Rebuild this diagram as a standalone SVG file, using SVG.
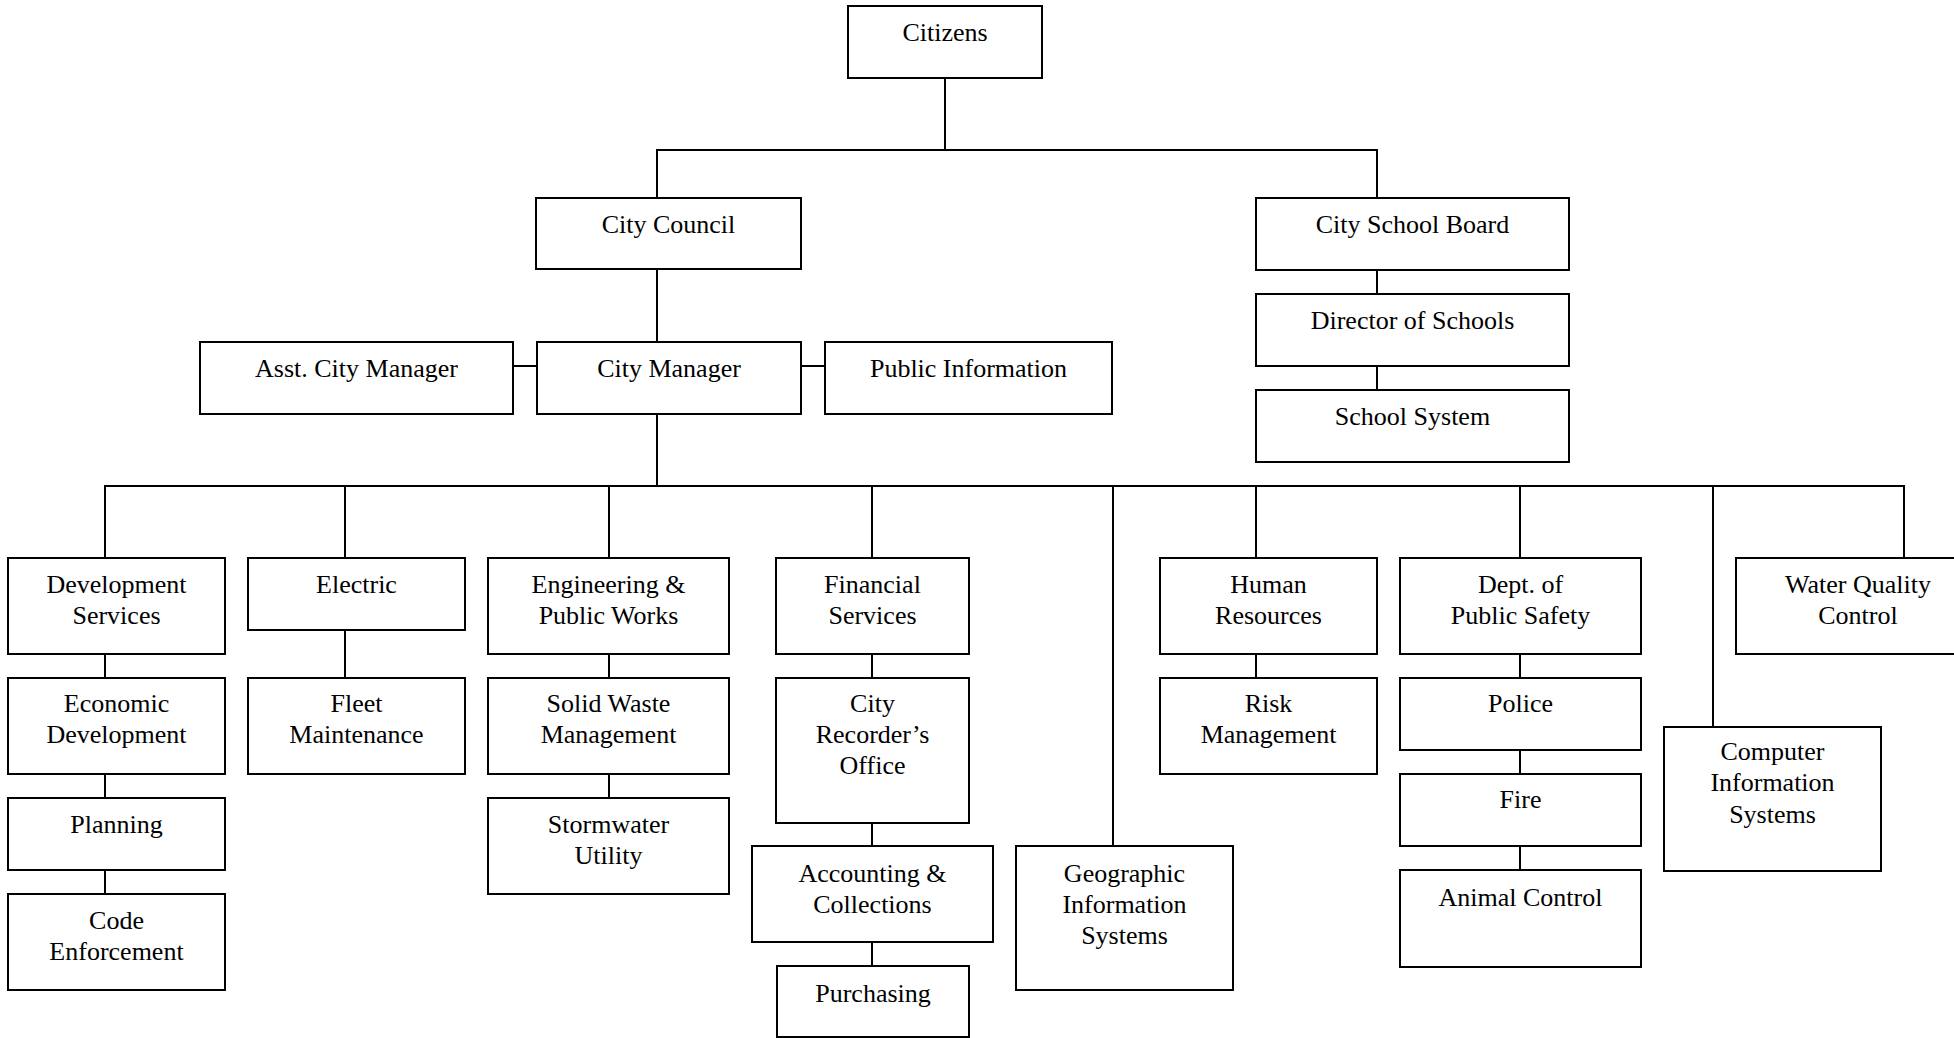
<svg xmlns="http://www.w3.org/2000/svg" width="1954" height="1038" viewBox="0 0 1954 1038">
<style>
  .box { fill: #fff; stroke: #000; stroke-width: 2; }
  .lbl { font-family: "Liberation Serif", "Times New Roman", serif; font-size: 26px; fill: #000; text-anchor: middle; }
  .conn line { stroke: #000; stroke-width: 2; }
</style>
<rect x="0" y="0" width="1954" height="1038" fill="#fff"/>
<g class="conn" id="connectors">
  <line x1="945" y1="78" x2="945" y2="150"/>
  <line x1="656" y1="150" x2="1378" y2="150"/>
  <line x1="657" y1="150" x2="657" y2="198"/>
  <line x1="1377" y1="150" x2="1377" y2="198"/>
  <line x1="657" y1="269" x2="657" y2="342"/>
  <line x1="513" y1="366" x2="537" y2="366"/>
  <line x1="801" y1="366" x2="825" y2="366"/>
  <line x1="1377" y1="270" x2="1377" y2="294"/>
  <line x1="1377" y1="366" x2="1377" y2="390"/>
  <line x1="657" y1="414" x2="657" y2="486"/>
  <line x1="104" y1="486" x2="1905" y2="486"/>
  <line x1="105" y1="486" x2="105" y2="558"/>
  <line x1="345" y1="486" x2="345" y2="558"/>
  <line x1="609" y1="486" x2="609" y2="558"/>
  <line x1="872" y1="486" x2="872" y2="558"/>
  <line x1="1113" y1="486" x2="1113" y2="846"/>
  <line x1="1256" y1="486" x2="1256" y2="558"/>
  <line x1="1520" y1="486" x2="1520" y2="558"/>
  <line x1="1713" y1="486" x2="1713" y2="727"/>
  <line x1="1904" y1="486" x2="1904" y2="558"/>
  <line x1="105" y1="654" x2="105" y2="678"/>
  <line x1="105" y1="774" x2="105" y2="798"/>
  <line x1="105" y1="870" x2="105" y2="894"/>
  <line x1="345" y1="630" x2="345" y2="678"/>
  <line x1="609" y1="654" x2="609" y2="678"/>
  <line x1="609" y1="774" x2="609" y2="798"/>
  <line x1="872" y1="654" x2="872" y2="678"/>
  <line x1="872" y1="823" x2="872" y2="846"/>
  <line x1="872" y1="942" x2="872" y2="966"/>
  <line x1="1256" y1="654" x2="1256" y2="678"/>
  <line x1="1520" y1="654" x2="1520" y2="678"/>
  <line x1="1520" y1="750" x2="1520" y2="774"/>
  <line x1="1520" y1="846" x2="1520" y2="870"/>
</g>
<g id="citizens"><rect class="box" x="848" y="6" width="194" height="72"/><text class="lbl" x="945" y="41">Citizens</text></g>
<g id="city-council"><rect class="box" x="536" y="198" width="265" height="71"/><text class="lbl" x="668.5" y="233">City Council</text></g>
<g id="city-school-board"><rect class="box" x="1256" y="198" width="313" height="72"/><text class="lbl" x="1412.5" y="233">City School Board</text></g>
<g id="director-of-schools"><rect class="box" x="1256" y="294" width="313" height="72"/><text class="lbl" x="1412.5" y="329">Director of Schools</text></g>
<g id="school-system"><rect class="box" x="1256" y="390" width="313" height="72"/><text class="lbl" x="1412.5" y="425">School System</text></g>
<g id="asst-city-manager"><rect class="box" x="200" y="342" width="313" height="72"/><text class="lbl" x="356.5" y="377">Asst. City Manager</text></g>
<g id="city-manager"><rect class="box" x="537" y="342" width="264" height="72"/><text class="lbl" x="669" y="377">City Manager</text></g>
<g id="public-information"><rect class="box" x="825" y="342" width="287" height="72"/><text class="lbl" x="968.5" y="377">Public Information</text></g>

<g id="development-services"><rect class="box" x="8" y="558" width="217" height="96"/><text class="lbl" x="116.5" y="593">Development</text><text class="lbl" x="116.5" y="624">Services</text></g>
<g id="economic-development"><rect class="box" x="8" y="678" width="217" height="96"/><text class="lbl" x="116.5" y="712">Economic</text><text class="lbl" x="116.5" y="743">Development</text></g>
<g id="planning"><rect class="box" x="8" y="798" width="217" height="72"/><text class="lbl" x="116.5" y="833">Planning</text></g>
<g id="code-enforcement"><rect class="box" x="8" y="894" width="217" height="96"/><text class="lbl" x="116.5" y="929">Code</text><text class="lbl" x="116.5" y="960">Enforcement</text></g>

<g id="electric"><rect class="box" x="248" y="558" width="217" height="72"/><text class="lbl" x="356.5" y="593">Electric</text></g>
<g id="fleet-maintenance"><rect class="box" x="248" y="678" width="217" height="96"/><text class="lbl" x="356.5" y="712">Fleet</text><text class="lbl" x="356.5" y="743">Maintenance</text></g>

<g id="engineering-public-works"><rect class="box" x="488" y="558" width="241" height="96"/><text class="lbl" x="608.5" y="593">Engineering &amp;</text><text class="lbl" x="608.5" y="624">Public Works</text></g>
<g id="solid-waste-management"><rect class="box" x="488" y="678" width="241" height="96"/><text class="lbl" x="608.5" y="712">Solid Waste</text><text class="lbl" x="608.5" y="743">Management</text></g>
<g id="stormwater-utility"><rect class="box" x="488" y="798" width="241" height="96"/><text class="lbl" x="608.5" y="833">Stormwater</text><text class="lbl" x="608.5" y="864">Utility</text></g>

<g id="financial-services"><rect class="box" x="776" y="558" width="193" height="96"/><text class="lbl" x="872.5" y="593">Financial</text><text class="lbl" x="872.5" y="624">Services</text></g>
<g id="city-recorders-office"><rect class="box" x="776" y="678" width="193" height="145"/><text class="lbl" x="872.5" y="712">City</text><text class="lbl" x="872.5" y="743">Recorder’s</text><text class="lbl" x="872.5" y="774">Office</text></g>
<g id="accounting-collections"><rect class="box" x="752" y="846" width="241" height="96"/><text class="lbl" x="872.5" y="882">Accounting &amp;</text><text class="lbl" x="872.5" y="913">Collections</text></g>
<g id="purchasing"><rect class="box" x="777" y="966" width="192" height="71"/><text class="lbl" x="873" y="1002">Purchasing</text></g>

<g id="geographic-information-systems"><rect class="box" x="1016" y="846" width="217" height="144"/><text class="lbl" x="1124.5" y="882">Geographic</text><text class="lbl" x="1124.5" y="913">Information</text><text class="lbl" x="1124.5" y="944">Systems</text></g>

<g id="human-resources"><rect class="box" x="1160" y="558" width="217" height="96"/><text class="lbl" x="1268.5" y="593">Human</text><text class="lbl" x="1268.5" y="624">Resources</text></g>
<g id="risk-management"><rect class="box" x="1160" y="678" width="217" height="96"/><text class="lbl" x="1268.5" y="712">Risk</text><text class="lbl" x="1268.5" y="743">Management</text></g>

<g id="dept-public-safety"><rect class="box" x="1400" y="558" width="241" height="96"/><text class="lbl" x="1520.5" y="593">Dept. of</text><text class="lbl" x="1520.5" y="624">Public Safety</text></g>
<g id="police"><rect class="box" x="1400" y="678" width="241" height="72"/><text class="lbl" x="1520.5" y="712">Police</text></g>
<g id="fire"><rect class="box" x="1400" y="774" width="241" height="72"/><text class="lbl" x="1520.5" y="808">Fire</text></g>
<g id="animal-control"><rect class="box" x="1400" y="870" width="241" height="97"/><text class="lbl" x="1520.5" y="906">Animal Control</text></g>

<g id="computer-information-systems"><rect class="box" x="1664" y="727" width="217" height="144"/><text class="lbl" x="1772.5" y="760">Computer</text><text class="lbl" x="1772.5" y="791">Information</text><text class="lbl" x="1772.5" y="823">Systems</text></g>

<g id="water-quality-control"><rect class="box" x="1736" y="558" width="244" height="96"/><text class="lbl" x="1858" y="593">Water Quality</text><text class="lbl" x="1858" y="624">Control</text></g>
</svg>
